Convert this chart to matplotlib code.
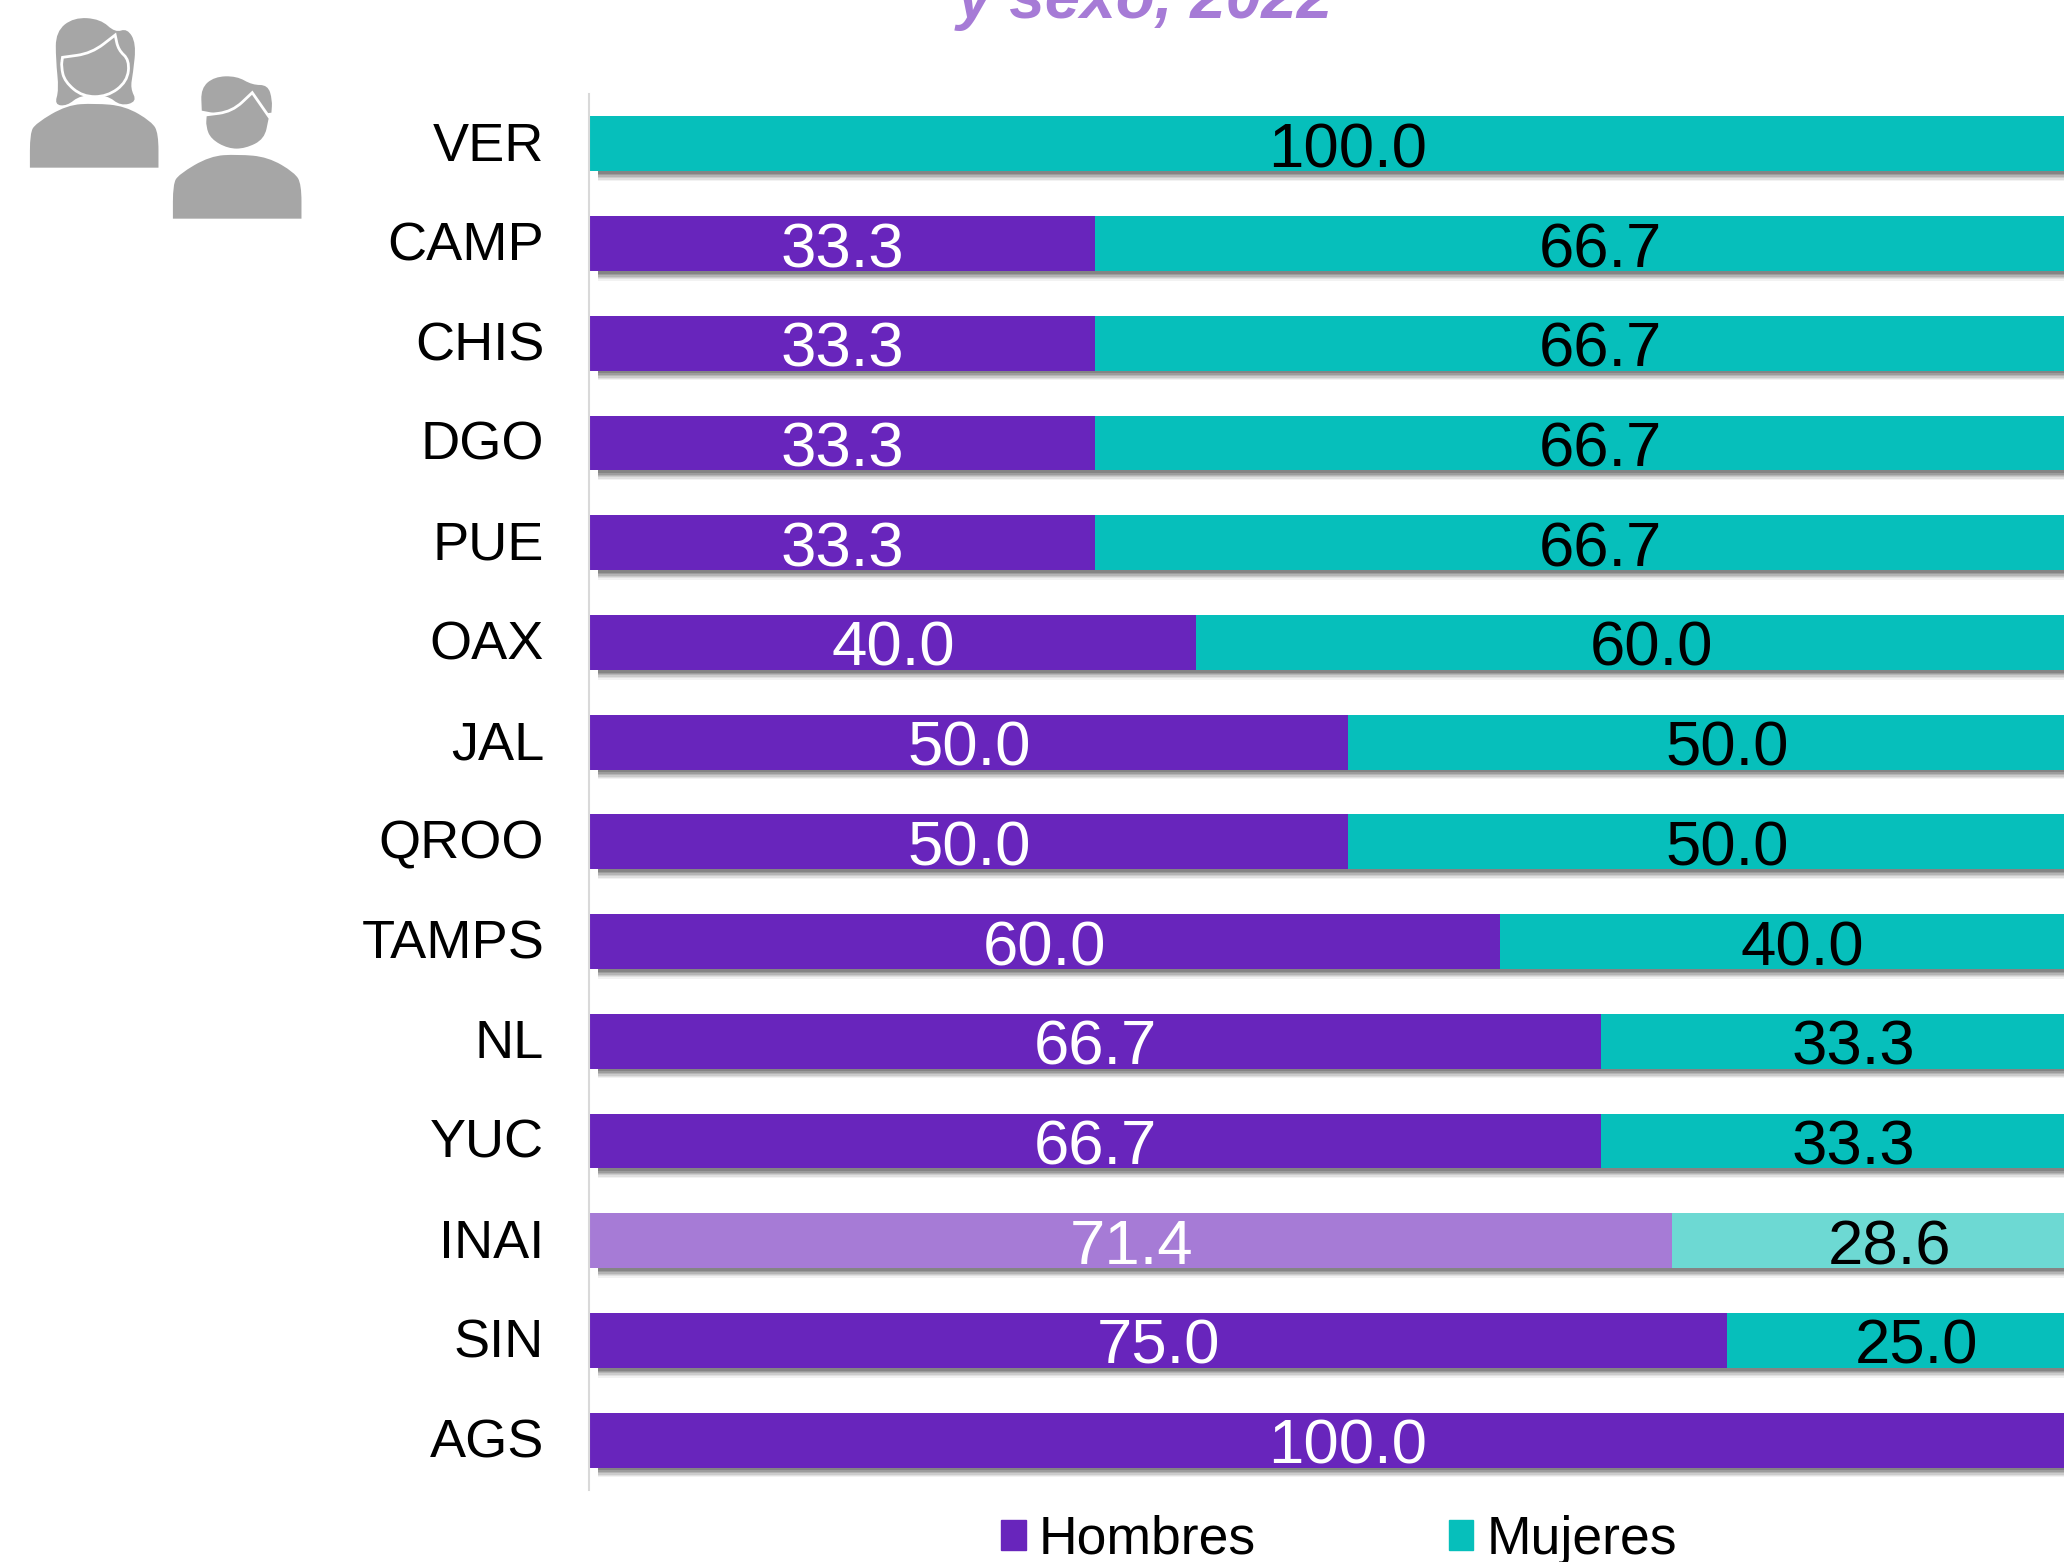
import matplotlib
matplotlib.use('Agg')
import numpy as np
import matplotlib.pyplot as plt
import matplotlib.patheffects as pe
from matplotlib.patches import Patch, PathPatch
from matplotlib.path import Path

# datos
estados = ['AGS', 'SIN', 'INAI', 'YUC', 'NL', 'TAMPS', 'QROO', 'JAL', 'OAX', 'PUE', 'DGO', 'CHIS', 'CAMP', 'VER']
hombres = [100.0, 75.0, 71.4, 66.7, 66.7, 60.0, 50.0, 50.0, 40.0, 33.3, 33.3, 33.3, 33.3, 0]
mujeres = [0, 25.0, 28.6, 33.3, 33.3, 40.0, 50.0, 50.0, 60.0, 66.7, 66.7, 66.7, 66.7, 100.0]

MORADO = '#6825BC'
TURQUESA = '#06BFBB'
MORADO_CLARO = '#A67BD6'
TURQUESA_CLARO = '#6DD9D3'
GRIS = '#A6A6A6'

W, H = 2064, 1562
plt.rcParams['font.family'] = ['Liberation Sans', 'DejaVu Sans']

fig = plt.figure(figsize=(W / 100, H / 100), dpi=100)
ax = fig.add_axes([590 / W, 1 - 1490 / H, (W - 590) / W, 1396 / H])

# sombra difusa debajo de cada barra
sombra = [pe.SimplePatchShadow(offset=(6, -o), shadow_rgbFace='#000000', alpha=a)
          for o, a in [(7, 0.05), (6, 0.07), (5, 0.09), (4, 0.11), (3, 0.13), (2, 0.15)]] + [pe.Normal()]

y = np.arange(len(estados))
b1 = ax.barh(y, hombres, height=0.55, color=MORADO, path_effects=sombra)
b2 = ax.barh(y, mujeres, left=hombres, height=0.55, color=TURQUESA, path_effects=sombra)

# INAI va en tono claro
i_inai = estados.index('INAI')
b1[i_inai].set_facecolor(MORADO_CLARO)
b2[i_inai].set_facecolor(TURQUESA_CLARO)

for i in range(len(estados)):
    if hombres[i] > 0:
        ax.text(hombres[i] / 2, i - 0.07, '%.1f' % hombres[i], color='white', fontsize=45.7,
                ha='center', va='center')
    if mujeres[i] > 0:
        ax.text(hombres[i] + mujeres[i] / 2, i - 0.07, '%.1f' % mujeres[i], color='black', fontsize=45.7,
                ha='center', va='center')

ax.set_xlim(0, (W - 590) / 1516 * 100)
ax.set_ylim(-0.5, 13.5)
ax.xaxis.set_visible(False)
# etiquetas un poco mas arriba del centro de la barra
ax.set_yticks(y + 0.026, labels=estados)
ax.tick_params(axis='y', length=0, pad=32, labelsize=39)
for s in ['top', 'right', 'bottom']:
    ax.spines[s].set_visible(False)
ax.spines['left'].set_color('#D9D9D9')
ax.spines['left'].set_linewidth(1.5)
ax.spines['left'].set_position(('outward', 1))

leg = fig.legend(handles=[Patch(color=MORADO, label='Hombres'), Patch(color=TURQUESA, label='Mujeres')],
                 ncol=2, loc='center', bbox_to_anchor=(1339 / W, 1 - 1540 / H), frameon=False, fontsize=38.5,
                 handlelength=0.46, handleheight=0.5, handletextpad=0.25, columnspacing=3.6,
                 borderpad=0, borderaxespad=0)

fig.text(1145 / W, 1 - 18 / H, 'y sexo, 2022', color=MORADO_CLARO, fontsize=46,
         fontweight='bold', fontstyle='italic', ha='center', va='baseline')

# iconos de personas, en pixeles de la figura
ic = fig.add_axes([0, 0, 1, 1], zorder=5)
ic.set_xlim(0, W)
ic.set_ylim(H, 0)
ic.axis('off')


def curva(puntos, dx=0, dy=0):
    # curva suave que pasa por los puntos medios; un punto repetido deja una esquina
    pts = [(px / 2.24 + dx, py / 3 + dy) for px, py in puntos]
    n = len(pts)
    verts = [((pts[-1][0] + pts[0][0]) / 2, (pts[-1][1] + pts[0][1]) / 2)]
    codes = [Path.MOVETO]
    for k in range(n):
        sig = pts[(k + 1) % n]
        verts += [pts[k], ((pts[k][0] + sig[0]) / 2, (pts[k][1] + sig[1]) / 2)]
        codes += [Path.CURVE3, Path.CURVE3]
    return Path(verts, codes)


cuerpo = [(67, 503), (67, 503), (67, 400), (80, 370), (150, 315), (212, 310), (280, 318), (340, 365),
          (355, 400), (355, 503), (355, 503)]
pelo_m = [(122, 314), (132, 270), (125, 180), (125, 95), (165, 52), (225, 57), (258, 98), (285, 85), (305, 130),
          (298, 220), (292, 265), (307, 305), (270, 318), (240, 285), (180, 285), (150, 318)]
cara_m = [(140, 172), (140, 172), (205, 160), (258, 105), (258, 105), (265, 150), (290, 180), (285, 245),
          (240, 290), (185, 290), (145, 245), (137, 200)]
pelo_h = [(452, 332), (452, 332), (450, 265), (480, 230), (530, 228), (565, 255), (600, 255), (610, 300),
          (608, 338), (608, 338), (530, 352)]
cara_h = [(460, 345), (460, 345), (520, 335), (565, 278), (565, 278), (605, 355), (605, 355), (595, 420),
          (550, 450), (510, 450), (470, 420), (458, 380)]

ic.add_patch(PathPatch(curva(cuerpo), fc=GRIS, ec='none'))
ic.add_patch(PathPatch(curva(pelo_m), fc=GRIS, ec='none'))
ic.add_patch(PathPatch(curva(cara_m), fc=GRIS, ec='white', lw=2))
ic.add_patch(PathPatch(curva(cuerpo, dx=143, dy=51), fc=GRIS, ec='none'))
ic.add_patch(PathPatch(curva(pelo_h), fc=GRIS, ec='none'))
ic.add_patch(PathPatch(curva(cara_h), fc=GRIS, ec='white', lw=2))

fig.savefig('out.png', dpi=100)
